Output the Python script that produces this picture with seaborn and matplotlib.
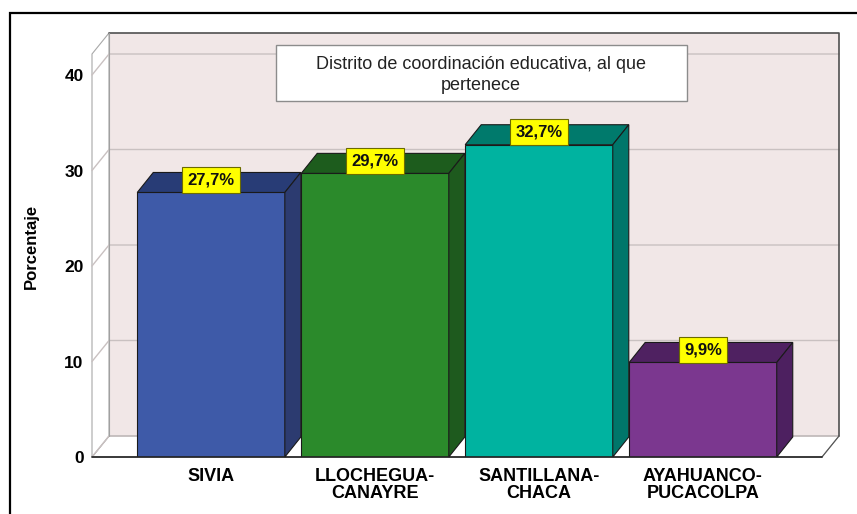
import numpy as np
import matplotlib
matplotlib.use("Agg")
import matplotlib.pyplot as plt
import seaborn as sns
from matplotlib.patches import Polygon, Rectangle

# data
categories = ["SIVIA", "LLOCHEGUA-\nCANAYRE", "SANTILLANA-\nCHACA", "AYAHUANCO-\nPUCACOLPA"]
percentages = [27.7, 29.7, 32.7, 9.9]
yticks = [0, 10, 20, 30, 40]
title = "Distrito de coordinación educativa, al que\npertenece"

front_colors = ["#3e5aa8", "#2b8a2b", "#00b3a0", "#7b378f"]
top_colors = ["#283c76", "#1d5c1d", "#007a6c", "#4f2161"]
side_colors = ["#2c3b70", "#1e5a1e", "#00766a", "#4d2060"]

sns.set_style("white")
plt.rcParams["font.family"] = ["Liberation Sans", "DejaVu Sans"]
plt.rcParams["text.color"] = "black"
plt.rcParams["axes.labelcolor"] = "black"
plt.rcParams["xtick.color"] = "black"
plt.rcParams["ytick.color"] = "black"

W, H = 857, 514
fig = plt.figure(figsize=(W / 100, H / 100), dpi=100)

# front plane of the plot in pixels
fl, fr, fb, ft = 92, 822, 457, 54
ax = fig.add_axes([fl / W, 1 - fb / H, (fr - fl) / W, (fb - ft) / H])

sns.barplot(x=categories, y=percentages, hue=categories, palette=front_colors,
            width=0.9, saturation=1, legend=False, ax=ax,
            edgecolor="#1a1a1a", linewidth=0.8, zorder=3)

x0, x1 = -0.726, 3.726
ytop = 42.2
ax.set_xlim(x0, x1)
ax.set_ylim(0, ytop)
for s in ax.spines.values():
    s.set_visible(False)
ax.set_facecolor("none")

# pixel -> data conversion for the 3D depth
sx = (fr - fl) / (x1 - x0)
sy = (fb - ft) / ytop
wdx, wdy = 17 / sx, 21 / sy
bdx, bdy = 16 / sx, 20 / sy

grid_c = "#c9c1c1"
# back wall
ax.add_patch(Polygon([(x0 + wdx, wdy), (x1 + wdx, wdy), (x1 + wdx, ytop + wdy), (x0 + wdx, ytop + wdy)],
                     closed=True, facecolor="#f1e7e7", edgecolor="none", zorder=0, clip_on=False))
# floor
ax.add_patch(Polygon([(x0, 0), (x1, 0), (x1 + wdx, wdy), (x0 + wdx, wdy)],
                     closed=True, facecolor="white", edgecolor="#9a9a9a", lw=0.8, zorder=0.5, clip_on=False))
# left wall
ax.add_patch(Polygon([(x0, 0), (x0, ytop), (x0 + wdx, ytop + wdy), (x0 + wdx, wdy)],
                     closed=True, facecolor="white", edgecolor="#a8a8a8", lw=0.8, zorder=0.5, clip_on=False))
# grid lines on left wall and back wall
for t in yticks:
    ax.plot([x0, x0 + wdx, x1 + wdx], [t, t + wdy, t + wdy], color=grid_c, lw=1.0,
            zorder=1, clip_on=False)
# back wall top and right edges
ax.plot([x0 + wdx, x1 + wdx, x1 + wdx], [ytop + wdy, ytop + wdy, wdy], color="#505050",
        lw=1.2, zorder=1, clip_on=False)
ax.plot([x0 + wdx, x0 + wdx], [wdy, ytop + wdy], color="#a0a0a0", lw=0.8, zorder=1, clip_on=False)
# front floor edge
ax.plot([x0, x1], [0, 0], color="#222222", lw=1.2, zorder=4, clip_on=False)
ax.plot([x1, x1 + wdx], [0, wdy], color="#555555", lw=0.8, zorder=1, clip_on=False)

# bar depth faces and labels
for i, p in enumerate(ax.patches[:len(percentages)]):
    bx, bw, bh = p.get_x(), p.get_width(), p.get_height()
    top = [(bx, bh), (bx + bw, bh), (bx + bw + bdx, bh + bdy), (bx + bdx, bh + bdy)]
    side = [(bx + bw, 0), (bx + bw + bdx, bdy), (bx + bw + bdx, bh + bdy), (bx + bw, bh)]
    ax.add_patch(Polygon(top, closed=True, facecolor=top_colors[i], edgecolor="#1a1a1a",
                         lw=0.8, zorder=3, clip_on=False))
    ax.add_patch(Polygon(side, closed=True, facecolor=side_colors[i], edgecolor="#1a1a1a",
                         lw=0.8, zorder=3, clip_on=False))
    lab = f"{percentages[i]:.1f}%".replace(".", ",")
    ax.text(bx + bw / 2, bh + bdy * 0.62, lab, ha="center", va="center",
            fontsize=12, fontweight="bold", color="#111111", zorder=5,
            bbox=dict(boxstyle="square,pad=0.32", facecolor="#ffff00", edgecolor="#6b6b00", lw=0.8))

ax.set_yticks(yticks)
ax.set_yticklabels([str(t) for t in yticks], fontsize=12.5, fontweight="bold")
ax.tick_params(axis="y", length=0, pad=6)
ax.tick_params(axis="x", length=0, pad=8)
for lbl in ax.get_xticklabels():
    lbl.set_fontsize(13)
    lbl.set_fontweight("bold")
    lbl.set_linespacing(1.0)
ax.set_xlabel("")
ax.set_ylabel("Porcentaje", fontsize=12, fontweight="bold")
ax.yaxis.set_label_coords((39 - fl) / (fr - fl), (fb - 246) / (fb - ft))

# title box
fig.patches.append(Rectangle((276 / W, 1 - 101 / H), (687 - 276) / W, (101 - 45) / H,
                             transform=fig.transFigure, facecolor="white",
                             edgecolor="#8c8c8c", lw=1.0, zorder=6))
fig.text(481 / W, 1 - 75 / H, title, ha="center", va="center", fontsize=13,
         linespacing=1.3, color="#222222", zorder=7)

# outer frame
fig.patches.append(Rectangle((10 / W, -0.02), 1.05, 1 - 13 / H + 0.02,
                             transform=fig.transFigure, facecolor="none",
                             edgecolor="black", lw=1.6, zorder=10))

fig.savefig("out.png", dpi=100)
